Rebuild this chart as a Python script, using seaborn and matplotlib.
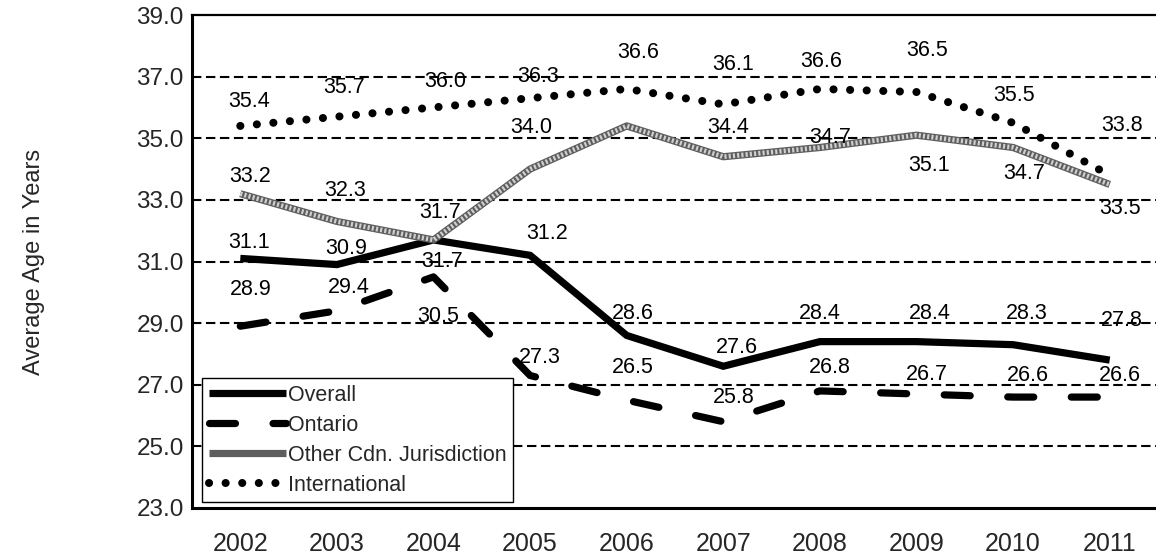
import numpy as np
import pandas as pd
import seaborn as sns
import matplotlib.pyplot as plt

years = [2002, 2003, 2004, 2005, 2006, 2007, 2008, 2009, 2010, 2011]
overall = [31.1, 30.9, 31.7, 31.2, 28.6, 27.6, 28.4, 28.4, 28.3, 27.8]
ontario = [28.9, 29.4, 30.5, 27.3, 26.5, 25.8, 26.8, 26.7, 26.6, 26.6]
other_cdn = [33.2, 32.3, 31.7, 34.0, 35.4, 34.4, 34.7, 35.1, 34.7, 33.5]
international = [35.4, 35.7, 36.0, 36.3, 36.6, 36.1, 36.6, 36.5, 35.5, 33.8]
# 2006 value of other Cdn. has no visible label in the original
other_cdn_shown = [True, True, True, True, False, True, True, True, True, True]

# label offsets (pixels, right / up) from each point
off_overall = [(9, 16), (9, 16), (9, -22), (17, 22), (6, 22), (14, 19), (0, 28), (13, 28), (14, 31), (12, 40)]
off_ontario = [(10, 37), (12, 23), (5, -40), (10, 18), (6, 33), (10, 24), (10, 23), (10, 19), (15, 22), (10, 22)]
off_other = [(10, 17), (8, 31), (7, 27), (1, 42), (0, 0), (5, 29), (10, 10), (13, -30), (11, -26), (10, -24)]
off_intl = [(9, 24), (7, 29), (12, 26), (8, 22), (11, 36), (10, 40), (1, 27), (11, 42), (1, 27), (12, 50)]

sns.set_style("white")
plt.rcParams['font.family'] = ['Liberation Sans', 'DejaVu Sans']

df = pd.DataFrame({'year': years, 'Overall': overall, 'Ontario': ontario,
                   'Other Cdn. Jurisdiction': other_cdn, 'International': international})

fig = plt.figure(figsize=(11.56, 5.56), dpi=100)
ax = fig.add_axes([192 / 1156, 1 - 508 / 556, 966 / 1156, 493 / 556])

# gridlines first
for v in [25, 27, 29, 31, 33, 35, 37]:
    ax.axhline(v, color='black', lw=1.5, linestyle=(0, (4.5, 2.2)), zorder=1)

lw = 5.2
sns.lineplot(data=df, x='year', y='Overall', ax=ax, color='black', lw=lw,
             solid_capstyle='butt', solid_joinstyle='miter', label='Overall', zorder=4)
sns.lineplot(data=df, x='year', y='Ontario', ax=ax, color='black', lw=lw,
             linestyle=(0, (3.6, 5.2)), dash_capstyle='round', label='Ontario', zorder=4)
# hatched grey line: dark base with light dotted overlay
sns.lineplot(data=df, x='year', y='Other Cdn. Jurisdiction', ax=ax, color='#5e5e5e', lw=5.2,
             solid_capstyle='butt', label='Other Cdn. Jurisdiction', zorder=5)
ax.plot(years, other_cdn, color='#d0d0d0', lw=3.4, linestyle=(0, (0.45, 0.45)), zorder=6)
sns.lineplot(data=df, x='year', y='International', ax=ax, color='black', lw=5.8,
             linestyle=(0, (0.01, 2.05)), dash_capstyle='round', label='International', zorder=4)

fs = 15.5
for vals, offs, shown in [(overall, off_overall, [True] * 10),
                          (ontario, off_ontario, [True] * 10),
                          (other_cdn, off_other, other_cdn_shown),
                          (international, off_intl, [True] * 10)]:
    for x, v, o, s in zip(years, vals, offs, shown):
        if not s:
            continue
        ax.annotate(f"{v:.1f}", (x, v), xytext=o, textcoords='offset pixels',
                    ha='center', va='center', fontsize=fs, color='black', zorder=7)

ax.set_xlim(2001.5, 2011.5)
ax.set_ylim(23, 39)
ax.set_yticks(np.arange(23, 40, 2))
ax.set_yticklabels([f"{v:.1f}" for v in np.arange(23, 40, 2)], fontsize=17.5)
ax.set_xticks(years)
ax.set_xticklabels([str(y) for y in years], fontsize=18)
ax.set_xticks(np.arange(2001.5, 2011.6, 1), minor=True)
ax.tick_params(axis='x', which='major', length=0, pad=17)
ax.tick_params(axis='x', which='minor', length=6, width=1.2, color='black', direction='out')
ax.tick_params(axis='y', length=0, pad=6)
ax.set_xlabel('')
ax.set_ylabel('Average Age in Years', fontsize=17, labelpad=66)

for side in ['left', 'bottom']:
    ax.spines[side].set_color('black')
    ax.spines[side].set_linewidth(2.2)
ax.spines['top'].set_color('black')
ax.spines['top'].set_linewidth(1.6)
ax.spines['right'].set_visible(False)

leg = ax.legend(loc='lower left', bbox_to_anchor=(0.0104, 0.012), borderaxespad=0,
                fontsize=fs, frameon=True, fancybox=False, edgecolor='black',
                handlelength=3.6, handletextpad=0.1, labelspacing=0.42,
                borderpad=0.3)
leg.get_frame().set_linewidth(1.0)
leg.get_frame().set_alpha(1)
leg.set_zorder(8)

fig.savefig('out.png', dpi=100)
